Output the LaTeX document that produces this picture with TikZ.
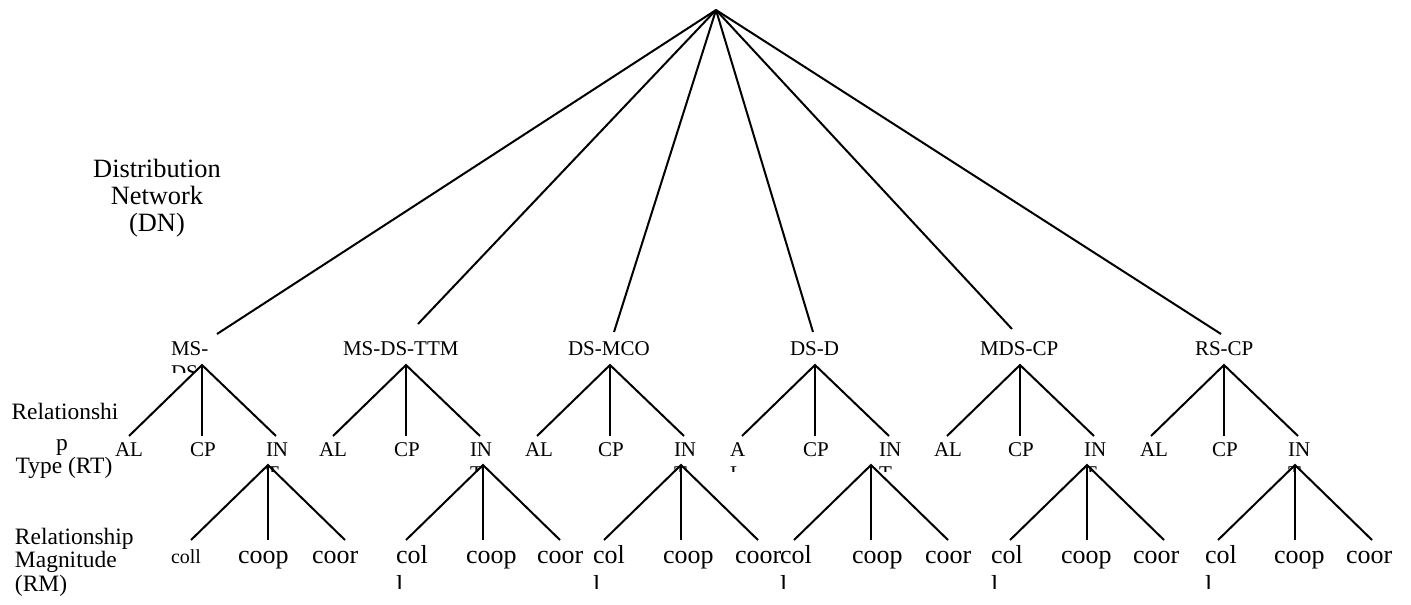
\documentclass[tikz,border=0pt]{standalone}
\usepackage{fontspec}
\setmainfont{Liberation Serif}
\newcommand\fntMid{\fontsize{15.75}{18}\selectfont}
\newcommand\fntLow{\fontsize{19.5}{22}\selectfont}
\newcommand\fntSide{\fontsize{17.6}{20}\selectfont}
\newcommand\fntDN{\fontsize{19.8}{22}\selectfont}
\newcommand\fntColl{\fontsize{15}{18}\selectfont}
\begin{document}
\begin{tikzpicture}[x=0.75pt,y=-0.75pt,
  conn/.style={draw=black, line width=1.5pt},
  lbl/.style={anchor=base west, inner sep=0pt, outer sep=0pt},
  clbl/.style={anchor=base, inner sep=0pt, outer sep=0pt}]
\useasboundingbox[fill=white] (0,0) rectangle (1411,604);
% side labels
\node[clbl,font=\fntDN] (dn1) at (157,177) {Distribution};
\node[clbl,font=\fntDN] (dn2) at (157,204) {Network};
\node[clbl,font=\fntDN] (dn3) at (157,231) {(DN)};
\node[clbl,font=\fntSide] (rt1) at (65,419) {Relationshi};
\node[clbl,font=\fntSide] (rt2) at (62,450) {p};
\node[clbl,font=\fntSide] (rt3) at (64,473) {Type (RT)};
\node[lbl,font=\fntSide] (rm1) at (15,544) {Relationship};
\node[lbl,font=\fntSide] (rm2) at (15,567) {Magnitude};
\node[lbl,font=\fntSide] (rm3) at (15,591) {(RM)};
% root
\coordinate (root) at (716,10);
% level 1
\foreach \i/\tx/\ex/\ey/\txt in {1/171/217/334/MS-, 2/343/418/324/MS-DS-TTM, 3/568/614/332/DS-MCO, 4/790/813/332/DS-D, 5/980/1012/329/MDS-CP, 6/1195/1221/334/RS-CP}{
  \node[lbl,font=\fntMid] (t\i) at (\tx,355) {\txt};
  \coordinate (e\i) at (\ex,\ey);
  \draw[conn] (root) -- (e\i);
}
\begin{scope}
  \clip (150,360) rectangle (260,372);
  \node[lbl,font=\fntMid] (t1b) at (171,379) {DS};
\end{scope}
% level 2
\foreach \i/\cx/\dx in {1/202/268, 2/406/483, 3/610/681, 4/815/871, 5/1020/1087, 6/1224/1295}{
  \coordinate (s\i) at (\cx,365);
  \coordinate (sl\i) at ({\cx-73},436);
  \coordinate (sm\i) at (\cx,436);
  \coordinate (sr\i) at ({\cx+74},436);
  \draw[conn] (sl\i) -- (s\i) -- (sr\i);
  \draw[conn] (s\i) -- (sm\i);
  \node[lbl,font=\fntMid] (cp\i) at ({\cx-12},456) {CP};
  \node[lbl,font=\fntMid] (in\i) at ({\cx+64},456) {IN};
  \coordinate (u\i) at (\dx,465);
  \coordinate (ul\i) at ({\dx-77},540);
  \coordinate (um\i) at (\dx,540);
  \coordinate (ur\i) at ({\dx+77},540);
  \draw[conn] (ul\i) -- (u\i) -- (ur\i);
  \draw[conn] (u\i) -- (um\i);
}
\foreach \i/\ax in {1/115, 2/319, 3/525, 5/934, 6/1140}{
  \node[lbl,font=\fntMid] (al\i) at (\ax,456) {AL};
}
\node[lbl,font=\fntMid] (al4) at (730,456) {A};
\begin{scope}
  \clip (0,460) rectangle (1411,471);
  \foreach \i/\tx in {1/266, 2/470, 3/674, 4/879, 5/1084, 6/1288}{
    \node[lbl,font=\fntMid] (int\i) at (\tx,480) {T};
  }
  \node[lbl,font=\fntMid] (al4b) at (730,480) {L};
\end{scope}
% level 3 labels
\node[lbl,font=\fntColl] (c1) at (171,563) {coll};
\foreach \i/\cb/\cc in {1/238/312, 2/466/537, 3/663/735, 4/852/925, 5/1061/1133, 6/1274/1346}{
  \node[lbl,font=\fntLow] (co\i) at (\cb,563) {coop};
  \node[lbl,font=\fntLow] (cr\i) at (\cc,563) {coor};
}
\foreach \i/\ca in {2/396, 3/593, 4/780, 5/991, 6/1205}{
  \node[lbl,font=\fntLow] (c\i) at (\ca,563) {col};
}
\begin{scope}
  \clip (0,570) rectangle (1411,588);
  \foreach \i/\ca in {2/396, 3/593, 4/780, 5/991, 6/1205}{
    \node[lbl,font=\fntLow] (cl\i) at (\ca,593) {l};
  }
\end{scope}
\end{tikzpicture}
\end{document}
